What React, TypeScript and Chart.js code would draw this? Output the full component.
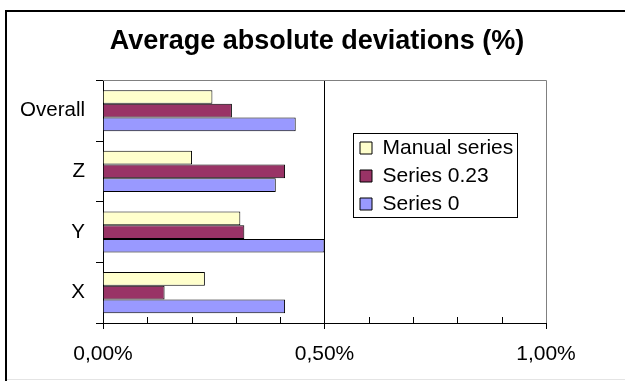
import React, { useEffect, useRef } from 'react';
import { Chart, registerables } from 'chart.js';

Chart.register(...registerables);

// ---- data ----
const categories = ['Overall', 'Z', 'Y', 'X'];
const seriesNames = ['Manual series', 'Series 0.23', 'Series 0'];
const manualSeries = [0.247, 0.201, 0.31, 0.23];
const series023 = [0.291, 0.411, 0.319, 0.139];
const series0 = [0.435, 0.39, 0.5, 0.411];
const xTickValues = [0, 0.5, 1];
const xMinorTickValues = [0.1, 0.2, 0.3, 0.4, 0.6, 0.7, 0.8, 0.9];
const titleText = 'Average absolute deviations (%)';

// ---- styles ----
const FONT = '"Liberation Sans", Arial, Helvetica, sans-serif';
const colors = ['#FFFFCC', '#993366', '#9999FF'];
const LEGEND_FONT = 21;
const LEGEND_BOX = 12;
const LEGEND_PAD = 7;
const LEGEND_FRAME = { x: 353.5, y: 133.5, w: 164, h: 84 };

const fmtPct = (v: number) => v.toFixed(2).replace('.', ',') + '%';

const outerFramePlugin = {
  id: 'outerFrame',
  beforeDraw(chart: any) {
    const { ctx, width, height } = chart;
    ctx.save();
    ctx.fillStyle = '#ffffff';
    ctx.fillRect(0, 0, width, height);
    ctx.fillStyle = '#000000';
    ctx.fillRect(5, 10, 2, height - 10);
    ctx.fillRect(5, 10, width - 5, 2);
    ctx.fillStyle = '#e4e4e4';
    ctx.fillRect(7, height - 2, width - 7, 1);
    ctx.restore();
  },
};

const plotBorderPlugin = {
  id: 'plotBorder',
  beforeDatasetsDraw(chart: any) {
    const { ctx, chartArea } = chart;
    const { left, right, top, bottom } = chartArea;
    ctx.save();
    ctx.strokeStyle = '#808080';
    ctx.lineWidth = 1;
    ctx.beginPath();
    ctx.moveTo(Math.round(left), Math.round(top) + 0.5);
    ctx.lineTo(Math.round(right) + 0.5, Math.round(top) + 0.5);
    ctx.lineTo(Math.round(right) + 0.5, Math.round(bottom));
    ctx.stroke();
    // minor tick marks on the value axis (inside the plot)
    const xs = chart.scales.x;
    ctx.strokeStyle = '#000000';
    ctx.beginPath();
    xMinorTickValues.forEach((v) => {
      const px = Math.round(xs.getPixelForValue(v)) + 0.5;
      ctx.moveTo(px, Math.round(bottom) - 6);
      ctx.lineTo(px, Math.round(bottom));
    });
    ctx.stroke();
    ctx.restore();
  },
};

const legendPlacerPlugin = {
  id: 'legendPlacer',
  afterLayout(chart: any) {
    const lg = chart.legend;
    if (!lg) return;
    const itemH = Math.max(LEGEND_FONT, LEGEND_BOX);
    const w = lg.width;
    const h = lg.height;
    lg.left = LEGEND_FRAME.x + 6.5 - LEGEND_PAD;
    lg.top = LEGEND_FRAME.y + 14.5 - LEGEND_PAD - itemH / 2;
    lg.right = lg.left + w;
    lg.bottom = lg.top + h;
  },
  afterDraw(chart: any) {
    const { ctx } = chart;
    ctx.save();
    ctx.strokeStyle = '#000000';
    ctx.lineWidth = 1;
    ctx.strokeRect(LEGEND_FRAME.x, LEGEND_FRAME.y, LEGEND_FRAME.w, LEGEND_FRAME.h);
    ctx.restore();
  },
};

export default function App() {
  const canvasRef = useRef<HTMLCanvasElement | null>(null);

  useEffect(() => {
    if (!canvasRef.current) return;
    const seriesData = [manualSeries, series023, series0];
    const chart = new Chart(canvasRef.current, {
      type: 'bar',
      data: {
        labels: categories,
        datasets: seriesNames.map((name, i) => ({
          label: name,
          data: seriesData[i],
          backgroundColor: colors[i],
          borderColor: '#000000',
          borderWidth: 1,
          borderSkipped: 'start',
          categoryPercentage: 0.678,
          barPercentage: 1.0,
        })),
      },
      options: {
        indexAxis: 'y',
        animation: false,
        responsive: false,
        devicePixelRatio: 1,
        events: [],
        layout: { padding: { left: 9, right: 0, top: 0, bottom: 0 } },
        plugins: {
          title: {
            display: true,
            text: titleText,
            color: '#000000',
            font: { family: FONT, size: 27, weight: 'bold' },
            padding: { top: 25, bottom: 23 },
          },
          legend: {
            display: true,
            position: 'chartArea',
            align: 'start',
            labels: {
              color: '#000000',
              font: { family: FONT, size: LEGEND_FONT },
              boxWidth: LEGEND_BOX,
              boxHeight: LEGEND_BOX,
              padding: LEGEND_PAD,
            },
          },
          tooltip: { enabled: false },
        },
        scales: {
          x: {
            type: 'linear',
            position: 'bottom',
            min: 0,
            max: 1,
            afterBuildTicks: (s: any) => {
              s.ticks = xTickValues.map((v) => ({ value: v }));
            },
            afterFit: (s: any) => {
              s.height = 58;
            },
            ticks: {
              color: '#000000',
              font: { family: FONT, size: 21 },
              padding: 13,
              maxRotation: 0,
              callback: (v: any) => fmtPct(Number(v)),
            },
            grid: {
              display: true,
              drawOnChartArea: true,
              drawTicks: true,
              tickLength: 6,
              tickColor: '#000000',
              color: (c: any) => (c.tick && c.tick.value === 0.5 ? '#000000' : 'rgba(0,0,0,0)'),
              lineWidth: 1,
            },
            border: { display: true, color: '#000000', width: 1 },
          },
          y: {
            type: 'category',
            position: 'left',
            afterFit: (s: any) => {
              s.width = 94;
            },
            ticks: {
              color: '#000000',
              font: { family: FONT, size: 20.5 },
              padding: 11,
            },
            grid: {
              display: true,
              offset: true,
              drawOnChartArea: false,
              drawTicks: true,
              tickLength: 7,
              tickColor: '#000000',
            },
            border: { display: true, color: '#000000', width: 1 },
          },
          yRight: {
            type: 'category',
            position: 'right',
            afterFit: (s: any) => {
              s.width = 79;
            },
            ticks: { display: false },
            grid: { display: false, drawTicks: false },
            border: { display: false },
          },
        },
      } as any,
      plugins: [outerFramePlugin, plotBorderPlugin, legendPlacerPlugin],
    });
    return () => chart.destroy();
  }, []);

  return (
    <div style={{ position: 'absolute', left: 0, top: 0, width: 625, height: 381, background: '#fff' }}>
      <canvas ref={canvasRef} width={625} height={381} style={{ display: 'block' }} />
    </div>
  );
}
